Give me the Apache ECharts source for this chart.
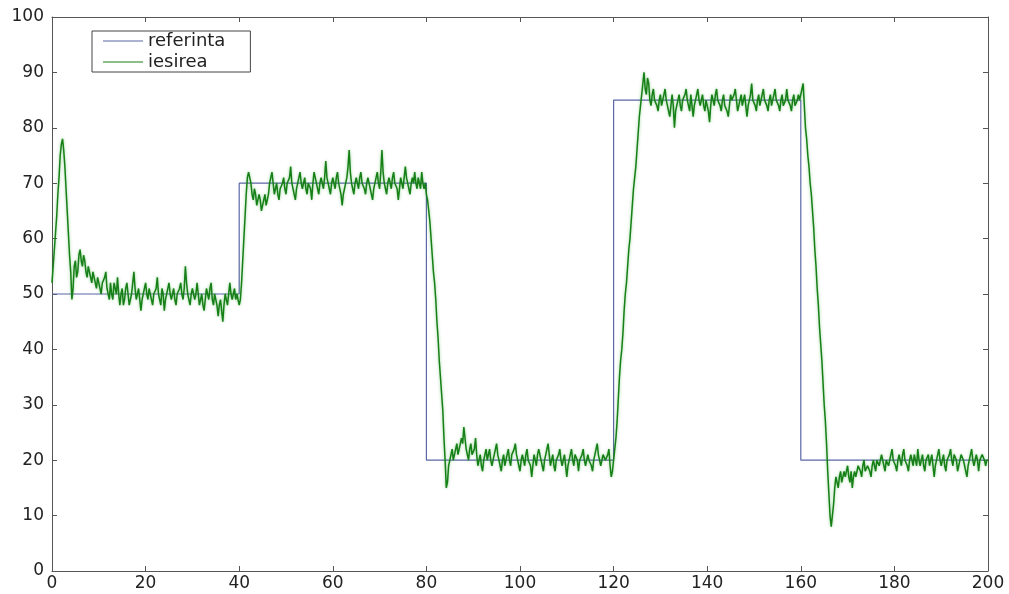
<!DOCTYPE html>
<html>
<head>
<meta charset="utf-8">
<title>referinta / iesirea</title>
<script src="https://cdn.jsdelivr.net/npm/echarts@6/dist/echarts.min.js"></script>
<style>
  html, body { margin: 0; padding: 0; background: #fff; }
  #main { width: 1009px; height: 594px; }
</style>
</head>
<body>
<div id="main"></div>
<script>
// reference signal: step values, each held until the next time
var refX = [0, 40, 80, 120, 160, 200];
var refY = [50, 70, 20, 85, 20, 20];

// system output, every 0.25 s
var outStep = 0.25;
var out0 = [52, 55, 58, 61, 64, 68, 71, 75, 77, 78, 76, 73, 69, 65, 61, 57, 54, 49, 51, 55,
  56, 53, 54, 57, 58, 56, 55, 57, 56, 54, 53, 55, 55, 53, 52, 54, 54, 52, 51, 53,
  53, 51, 50, 52, 52, 53, 54, 51, 50, 49, 52, 50, 49, 52, 51, 50, 53, 50, 48, 50,
  51, 48, 49, 51, 52, 50, 48, 49, 50, 52, 54, 51, 49, 50, 51, 49, 47, 49, 50, 51,
  52, 50, 49, 51, 51, 49, 48, 50, 50, 51, 53, 50, 49, 48, 51, 50, 47, 49, 50, 51,
  52, 50, 49, 50, 51, 49, 48, 50, 50, 51, 52, 50, 49, 51, 55, 52, 50, 49, 48, 50,
  51, 50, 49, 50, 52, 50, 48, 49, 50, 48, 47, 49, 51, 50, 49, 51, 52, 49, 48, 50,
  50, 48, 46, 48, 49, 47, 45, 48, 50, 49, 48, 50, 52, 50, 49, 50, 51, 49, 50, 49];
var out40 = [48, 49, 52, 56, 60, 64, 68, 71, 72, 71, 70, 68, 67, 69, 68, 66, 66, 68, 67, 65,
  65, 67, 68, 66, 66, 68, 70, 71, 72, 70, 68, 69, 70, 68, 67, 69, 69, 70, 71, 69,
  68, 70, 70, 71, 73, 70, 69, 68, 67, 69, 70, 71, 72, 70, 69, 70, 71, 69, 68, 70,
  70, 69, 67, 70, 72, 71, 70, 69, 68, 70, 71, 70, 69, 71, 74, 71, 70, 69, 68, 70,
  71, 70, 69, 71, 72, 70, 70, 68, 66, 68, 69, 70, 71, 73, 76, 72, 70, 69, 68, 70,
  71, 70, 69, 71, 72, 70, 70, 69, 68, 70, 71, 70, 69, 68, 67, 69, 70, 71, 72, 70,
  69, 72, 76, 72, 70, 69, 68, 70, 71, 70, 69, 71, 72, 70, 70, 69, 67, 69, 71, 70,
  69, 71, 73, 71, 70, 69, 68, 70, 71, 70, 72, 70, 69, 71, 70, 69, 72, 70, 69, 70];
var out80 = [68, 67, 65, 63, 60, 57, 54, 52, 49, 45, 42, 38, 35, 32, 29, 24, 20, 15, 16, 19,
  19, 21, 22, 20, 20, 22, 23, 21, 21, 23, 24, 23, 26, 24, 22, 21, 20, 22, 23, 21,
  21, 22, 24, 21, 19, 20, 21, 19, 18, 20, 21, 22, 20, 21, 22, 20, 19, 20, 21, 22,
  23, 21, 20, 19, 18, 20, 21, 19, 20, 21, 22, 20, 19, 21, 21, 22, 23, 21, 20, 19,
  18, 20, 21, 20, 19, 21, 22, 20, 20, 19, 17, 19, 21, 20, 19, 21, 22, 21, 20, 19,
  18, 20, 21, 22, 23, 21, 19, 20, 21, 19, 18, 20, 20, 21, 22, 20, 19, 20, 21, 19,
  17, 19, 20, 21, 22, 20, 19, 21, 21, 20, 18, 20, 20, 21, 22, 20, 19, 20, 21, 20,
  20, 19, 18, 20, 21, 22, 23, 21, 20, 19, 19, 21, 21, 20, 20, 21, 22, 19, 17, 18];
var out120 = [20, 22, 24, 27, 31, 35, 38, 40, 43, 47, 50, 52, 55, 58, 60, 63, 66, 69, 71, 73,
  76, 79, 82, 84, 86, 88, 90, 87, 86, 89, 88, 85, 84, 86, 87, 85, 85, 84, 83, 85,
  86, 84, 84, 86, 87, 85, 85, 83, 82, 84, 86, 84, 80, 83, 84, 85, 86, 84, 83, 85,
  85, 86, 87, 85, 84, 83, 86, 84, 82, 84, 85, 86, 87, 85, 84, 85, 86, 84, 83, 85,
  85, 83, 81, 84, 86, 85, 84, 86, 87, 85, 85, 84, 83, 85, 86, 84, 84, 83, 82, 84,
  86, 85, 85, 86, 87, 85, 83, 84, 85, 86, 84, 85, 86, 84, 82, 84, 84, 86, 88, 85,
  85, 84, 83, 85, 86, 84, 84, 86, 87, 85, 85, 84, 83, 85, 86, 84, 84, 86, 87, 85,
  85, 84, 83, 85, 86, 84, 84, 85, 87, 85, 85, 84, 83, 85, 86, 84, 84, 85, 86, 85];
var out160 = [85, 87, 88, 84, 80, 78, 75, 73, 70, 68, 65, 62, 58, 55, 51, 48, 44, 41, 38, 34,
  30, 27, 23, 18, 14, 10, 8, 10, 12, 15, 17, 16, 15, 17, 18, 16, 16, 18, 17, 18,
  19, 17, 16, 18, 15, 17, 18, 17, 17, 19, 19, 18, 17, 19, 20, 18, 18, 19, 19, 18,
  17, 19, 20, 19, 18, 20, 20, 19, 19, 21, 21, 19, 18, 20, 20, 19, 19, 21, 22, 20,
  20, 19, 18, 20, 21, 20, 19, 21, 22, 20, 20, 19, 18, 20, 21, 20, 19, 21, 20, 19,
  22, 20, 19, 20, 21, 19, 18, 20, 20, 21, 19, 20, 21, 19, 17, 19, 20, 21, 22, 20,
  19, 20, 21, 19, 18, 20, 20, 21, 22, 20, 19, 21, 21, 20, 18, 19, 20, 21, 21, 20,
  19, 18, 17, 19, 20, 21, 22, 20, 19, 20, 21, 20, 18, 20, 20, 21, 21, 20, 19, 20, 20];

var xTicks = [0, 200, 20];
var yTicks = [0, 100, 10];

var outY = out0.concat(out40, out80, out120, out160);
var outData = outY.map(function (v, i) { return [i * outStep, v]; });
var refData = refX.map(function (x, i) { return [x, refY[i]]; });

var axisColor = '#555';
var font = 'DejaVu Sans, Liberation Sans, Arial, sans-serif';
var labelStyle = { color: '#222', fontSize: 17, fontFamily: font };

var chart = echarts.init(document.getElementById('main'));
chart.setOption({
  backgroundColor: '#fff',
  animation: false,
  grid: { left: 52, right: 21, top: 17, bottom: 23, containLabel: false },
  legend: {
    left: 92,
    top: 31,
    orient: 'vertical',
    data: ['referinta', 'iesirea'],
    icon: 'rect',
    itemWidth: 40,
    itemHeight: 1,
    itemGap: 3,
    padding: [1, 25, 1, 11],
    borderColor: '#444',
    borderWidth: 1,
    borderRadius: 0,
    backgroundColor: '#fff',
    textStyle: { color: '#222', fontSize: 18, fontFamily: font }
  },
  xAxis: [{
    type: 'value', min: xTicks[0], max: xTicks[1], interval: xTicks[2],
    axisLine: { show: true, onZero: false, lineStyle: { color: axisColor, width: 1 } },
    axisTick: { show: true, inside: true, length: 5, lineStyle: { color: axisColor } },
    axisLabel: Object.assign({ margin: 4 }, labelStyle),
    splitLine: { show: false }
  }, {
    type: 'value', position: 'top', min: xTicks[0], max: xTicks[1], interval: xTicks[2],
    axisLine: { show: true, onZero: false, lineStyle: { color: axisColor, width: 1 } },
    axisTick: { show: true, inside: true, length: 5, lineStyle: { color: axisColor } },
    axisLabel: { show: false },
    splitLine: { show: false }
  }],
  yAxis: [{
    type: 'value', min: yTicks[0], max: yTicks[1], interval: yTicks[2],
    axisLine: { show: true, onZero: false, lineStyle: { color: axisColor, width: 1 } },
    axisTick: { show: true, inside: true, length: 5, lineStyle: { color: axisColor } },
    axisLabel: Object.assign({ margin: 8 }, labelStyle),
    splitLine: { show: false }
  }, {
    type: 'value', position: 'right', min: yTicks[0], max: yTicks[1], interval: yTicks[2],
    axisLine: { show: true, onZero: false, lineStyle: { color: axisColor, width: 1 } },
    axisTick: { show: true, inside: true, length: 5, lineStyle: { color: axisColor } },
    axisLabel: { show: false },
    splitLine: { show: false }
  }],
  series: [{
    name: 'referinta',
    type: 'line',
    step: 'end',
    data: refData,
    symbol: 'none',
    itemStyle: { color: '#5b67a6' },
    lineStyle: { color: '#5b67a6', width: 1.2 }
  }, {
    name: 'iesirea',
    type: 'line',
    data: outData,
    symbol: 'none',
    itemStyle: { color: '#177f17' },
    lineStyle: { color: '#177f17', width: 1.5, shadowBlur: 3, shadowColor: 'rgba(40,170,40,0.5)' }
  }]
});
window.onresize = chart.resize;
</script>
</body>
</html>
